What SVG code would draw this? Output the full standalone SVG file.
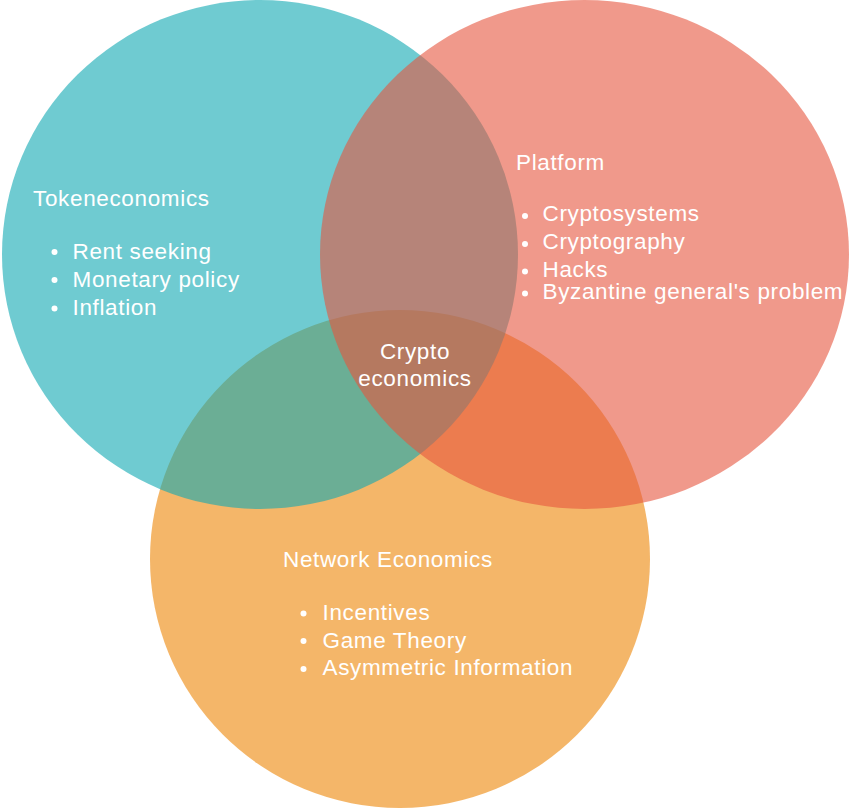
<svg xmlns="http://www.w3.org/2000/svg" width="852" height="810" viewBox="0 0 852 810">
<style>
.set{fill-opacity:0.6;stroke:none}
.orange{fill:#ED8505}
.teal{fill:#0FA8B2}
.salmon{fill:#E6553E}
text{font-family:"Liberation Sans",Arial,Helvetica,sans-serif;font-size:22.5px;fill:#ffffff;letter-spacing:0.65px}
.mid{text-anchor:middle}
.dot{fill:#ffffff}
</style>
<rect width="852" height="810" fill="#ffffff"/>
<g id="network-economics">
<ellipse class="set orange" cx="400" cy="559" rx="250" ry="249"/>
<text x="283" y="567">Network Economics</text>
<circle class="dot" cx="303.5" cy="613.5" r="3"/>
<circle class="dot" cx="303.5" cy="641" r="3"/>
<circle class="dot" cx="303.5" cy="669" r="3"/>
<text x="322.5" y="619.5">Incentives</text>
<text x="322.5" y="647.5">Game Theory</text>
<text x="322.5" y="675">Asymmetric Information</text>
</g>
<g id="tokeneconomics">
<ellipse class="set teal" cx="260" cy="254.5" rx="258" ry="254.5"/>
<text x="33" y="206">Tokeneconomics</text>
<circle class="dot" cx="54.5" cy="252" r="3"/>
<circle class="dot" cx="54.5" cy="280" r="3"/>
<circle class="dot" cx="54.5" cy="308.5" r="3"/>
<text x="72.5" y="258.5">Rent seeking</text>
<text x="72.5" y="286.5">Monetary policy</text>
<text x="72.5" y="315">Inflation</text>
</g>
<g id="platform">
<ellipse class="set salmon" cx="584.5" cy="254.5" rx="264.5" ry="254.5"/>
<text x="516" y="169.5">Platform</text>
<circle class="dot" cx="525" cy="216" r="3"/>
<circle class="dot" cx="525" cy="244" r="3"/>
<circle class="dot" cx="525" cy="271.5" r="3"/>
<circle class="dot" cx="525" cy="293.5" r="3"/>
<text x="542.5" y="221">Cryptosystems</text>
<text x="542.5" y="249">Cryptography</text>
<text x="542.5" y="276.5">Hacks</text>
<text x="542.5" y="298.5">Byzantine general's problem</text>
</g>
<g id="cryptoeconomics">
<text class="mid" x="415" y="359">Crypto</text>
<text class="mid" x="415" y="386">economics</text>
</g>
<g id="connectors"/>
</svg>
